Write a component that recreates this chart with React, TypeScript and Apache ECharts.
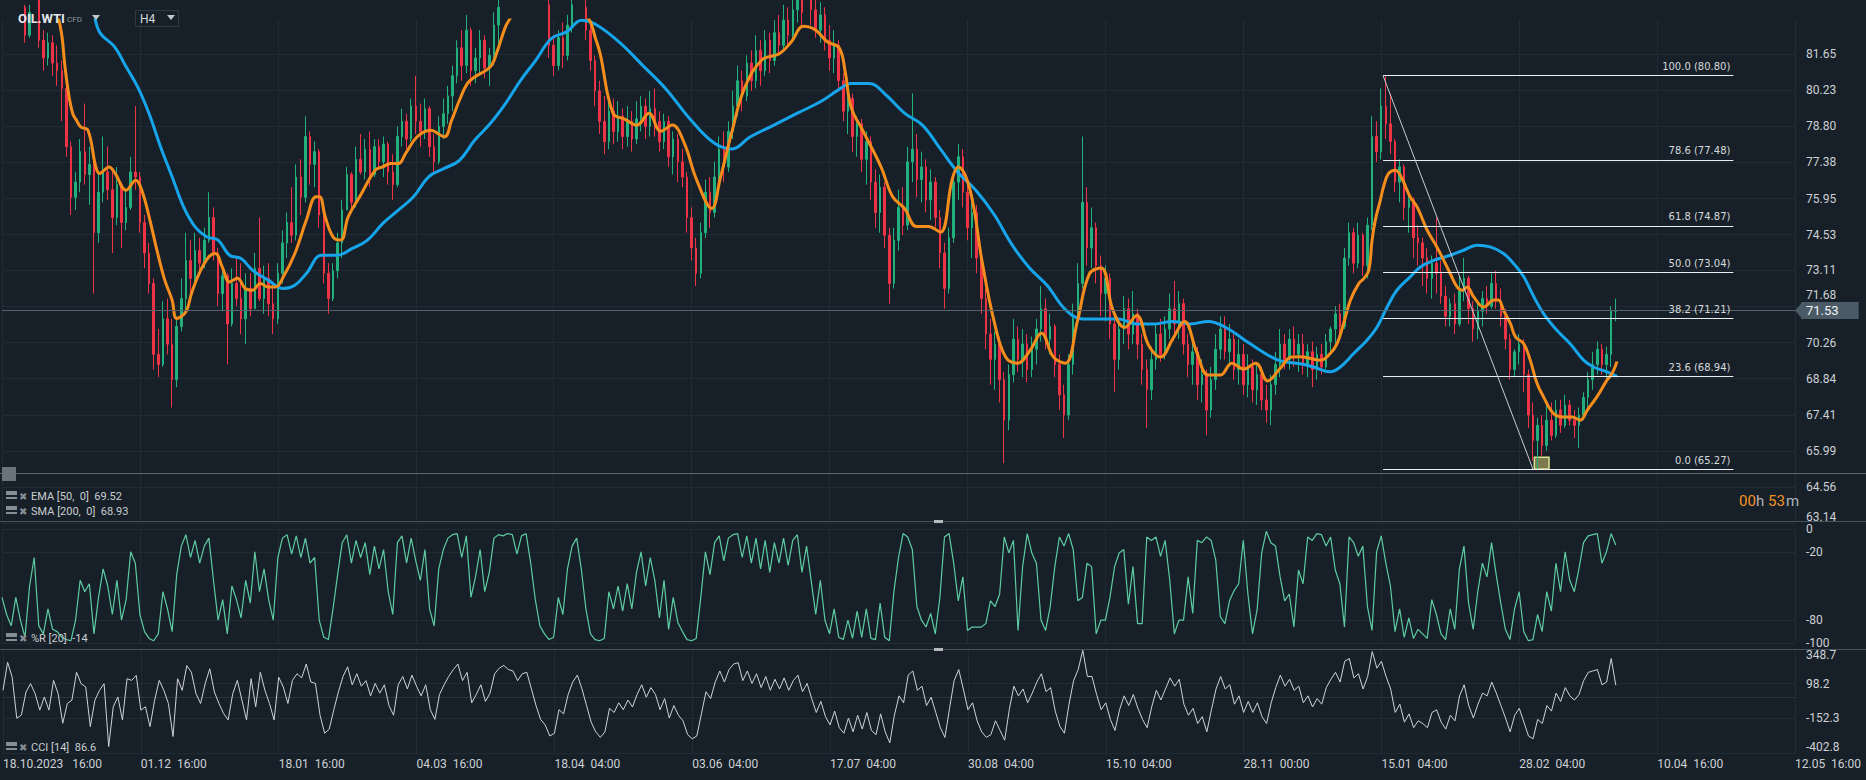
import React, { useEffect, useRef } from 'react';
import * as echarts from 'echarts';

const W = 1866;
const H = 780;
const BG = '#172028';
const GRID_LINE = '#212b34';
const AXIS_TEXT = '#cdd1d5';
const UP = '#22b07d';
const DOWN = '#ee3347';

// x axis: one tick label every 30 candles
const candlesPerTick = 30;
const xTickLabels = ['18.10.2023   16:00', '01.12  16:00', '18.01  16:00', '04.03  16:00', '18.04  04:00', '03.06  04:00', '17.07  04:00', '30.08  04:00', '15.10  04:00', '28.11  00:00', '15.01  04:00', '28.02  04:00', '10.04  16:00', '12.05  16:00'];

const priceTicks = [63.14, 64.56, 65.99, 67.41, 68.84, 70.26, 71.68, 73.11, 74.53, 75.95, 77.38, 78.8, 80.23, 81.65];
const priceMin = 63.14;
const priceMax = 83.0;
const wprTicks = [-100, -80, -20, 0];
const cciTicks = [-402.8, -152.3, 98.2, 348.7];

// candles: [open, close, low, high]
const candlesA = [
  [84.8, 84.4, 84.1, 85.2], [84.4, 84.0, 83.7, 84.7], [84.0, 83.6, 83.3, 84.2], [83.6, 83.9, 83.4, 84.3], [83.9, 83.5, 83.2, 84.1],
  [83.5, 82.4, 82.1, 83.6], [82.4, 83.3, 82.3, 83.6], [83.3, 83.8, 83.1, 84.2], [83.8, 82.2, 81.9, 84.0], [82.2, 81.5, 81.0, 82.6],
  [81.5, 82.1, 81.2, 82.5], [82.1, 81.3, 80.8, 82.4], [81.3, 81.0, 80.4, 82.0], [81.0, 80.3, 79.0, 81.4], [80.3, 78.0, 77.6, 80.5],
  [78.0, 76.0, 75.3, 78.2], [76.0, 76.6, 75.5, 77.0], [76.6, 77.8, 76.2, 78.3], [77.8, 76.9, 76.5, 79.7], [76.9, 77.3, 75.7, 78.0],
  [77.3, 74.6, 72.2, 77.4], [74.6, 76.2, 74.2, 77.0], [76.2, 77.0, 75.8, 78.4], [77.0, 76.3, 75.9, 78.0], [76.3, 75.2, 73.8, 77.0],
  [75.2, 76.5, 74.9, 77.2], [76.5, 75.0, 74.0, 76.6], [75.0, 75.6, 74.7, 76.3], [75.6, 77.0, 75.5, 77.6], [77.0, 76.8, 76.3, 79.6],
  [76.8, 75.0, 74.6, 77.0], [75.0, 73.8, 73.2, 75.3], [73.8, 72.6, 72.2, 74.2], [72.6, 69.8, 69.2, 72.8], [69.8, 69.4, 68.9, 70.8],
  [69.4, 71.2, 69.3, 71.9], [71.2, 70.2, 69.8, 72.0], [70.2, 68.8, 67.7, 71.2], [68.8, 70.9, 68.5, 71.3], [70.9, 72.0, 70.7, 72.8],
  [72.0, 73.5, 71.4, 74.6], [73.5, 72.8, 72.2, 74.3], [72.8, 73.9, 72.6, 74.6], [73.9, 73.4, 73.0, 74.4], [73.4, 74.3, 73.2, 74.8],
  [74.3, 75.2, 74.2, 76.2], [75.2, 73.8, 73.5, 75.6], [73.8, 72.2, 71.7, 74.0], [72.2, 72.9, 71.5, 73.3], [72.9, 71.0, 69.4, 73.0],
  [71.0, 72.6, 70.9, 73.2], [72.6, 72.0, 71.7, 73.6], [72.0, 71.2, 70.6, 73.4], [71.2, 72.4, 70.2, 73.0], [72.4, 71.6, 71.3, 73.0],
  [71.6, 73.2, 71.6, 73.8], [73.2, 72.0, 71.9, 75.2], [72.0, 72.8, 71.4, 73.3], [72.8, 71.8, 71.3, 73.4], [71.8, 71.2, 70.6, 72.6],
  [71.2, 73.0, 71.0, 73.4], [73.0, 74.2, 72.6, 74.7], [74.2, 75.0, 73.6, 75.4], [75.0, 74.5, 74.2, 76.4], [74.5, 76.8, 74.3, 77.3],
  [76.8, 76.0, 75.3, 77.5], [76.0, 78.4, 75.8, 79.2], [78.4, 77.3, 76.5, 78.6], [77.3, 77.8, 76.4, 78.2], [77.8, 75.3, 74.8, 77.9],
  [75.3, 73.0, 72.6, 75.4], [73.0, 72.0, 71.4, 73.4], [72.0, 73.1, 71.9, 73.4], [73.1, 74.2, 72.8, 74.6], [74.2, 75.5, 73.6, 75.9],
  [75.5, 76.9, 75.5, 77.2], [76.9, 75.8, 75.4, 77.0], [75.8, 77.5, 75.6, 78.0], [77.5, 77.0, 76.9, 78.5], [77.0, 77.9, 76.7, 78.3],
  [77.9, 76.9, 76.4, 78.6], [76.9, 78.0, 76.8, 78.3], [78.0, 77.4, 77.2, 78.3], [77.4, 78.1, 76.8, 78.4], [78.1, 77.0, 76.5, 78.2],
  [77.0, 76.5, 75.9, 77.7], [76.5, 78.4, 76.4, 78.8], [78.4, 79.0, 78.0, 79.5], [79.0, 78.3, 77.9, 79.3], [78.3, 79.6, 78.2, 79.9],
  [79.6, 79.0, 78.5, 80.8], [79.0, 78.6, 78.0, 79.7], [78.6, 79.5, 78.3, 79.9], [79.5, 78.0, 77.6, 79.6], [78.0, 77.4, 76.9, 78.5],
  [77.4, 78.8, 77.3, 79.2], [78.8, 79.3, 78.3, 79.9], [79.3, 80.0, 78.9, 80.4], [80.0, 80.8, 79.4, 81.2], [80.8, 81.9, 80.5, 82.2]
];
const candlesB = [
  [81.9, 81.2, 80.6, 82.6], [81.2, 82.6, 80.9, 83.2], [82.6, 81.0, 80.4, 82.7], [81.0, 81.5, 80.5, 81.9], [81.5, 82.2, 80.8, 82.6],
  [82.2, 81.1, 80.7, 82.4], [81.1, 81.6, 80.4, 81.9], [81.6, 82.8, 81.2, 83.3], [82.8, 83.5, 81.9, 84.0], [83.5, 84.2, 83.3, 84.6],
  [84.2, 84.8, 83.9, 85.2], [84.8, 85.3, 84.5, 85.8], [85.3, 85.0, 84.6, 85.9], [85.0, 85.8, 84.8, 86.3], [85.8, 86.2, 85.4, 86.8],
  [86.2, 85.6, 85.2, 86.6], [85.6, 84.9, 84.5, 85.9], [84.9, 84.2, 83.8, 85.1], [84.2, 83.6, 83.2, 84.5], [83.6, 82.0, 81.5, 83.8],
  [82.0, 81.2, 80.8, 82.4], [81.2, 82.3, 81.0, 82.6], [82.3, 81.6, 81.1, 82.9], [81.6, 82.8, 81.4, 83.2], [82.8, 83.6, 82.5, 84.0],
  [83.6, 84.2, 83.2, 84.6], [84.2, 83.5, 83.1, 84.5], [83.5, 82.6, 82.2, 83.8], [82.6, 81.4, 81.0, 82.9], [81.4, 80.2, 79.6, 81.6],
  [80.2, 79.0, 78.5, 80.6], [79.0, 78.2, 77.7, 80.0], [78.2, 79.4, 77.9, 79.8], [79.4, 78.6, 78.1, 79.9], [78.6, 79.2, 78.2, 79.8],
  [79.2, 78.4, 77.9, 79.5], [78.4, 79.0, 78.0, 79.6], [79.0, 78.3, 77.8, 79.4], [78.3, 79.1, 78.1, 79.8], [79.1, 79.6, 78.6, 80.0],
  [79.6, 78.8, 78.3, 79.9], [78.8, 79.5, 78.4, 80.2], [79.5, 79.0, 78.4, 80.3], [79.0, 78.2, 77.8, 79.4], [78.2, 79.0, 77.9, 79.3],
  [79.0, 77.6, 77.2, 79.2], [77.6, 78.3, 76.9, 78.6], [78.3, 77.4, 76.6, 78.5], [77.4, 76.8, 76.4, 77.9], [76.8, 75.2, 74.6, 77.0],
  [75.2, 74.0, 73.5, 75.6], [74.0, 73.0, 72.5, 74.4], [73.0, 74.6, 72.8, 75.0], [74.6, 76.2, 74.4, 76.7], [76.2, 75.4, 74.8, 76.8],
  [75.4, 76.8, 75.2, 77.4], [76.8, 77.9, 76.5, 78.4], [77.9, 77.2, 76.6, 78.6], [77.2, 78.6, 77.0, 79.0], [78.6, 79.6, 78.3, 80.2],
  [79.6, 80.6, 79.2, 81.2], [80.6, 80.0, 79.4, 81.0], [80.0, 81.3, 79.8, 81.6], [81.3, 80.6, 80.2, 81.8], [80.6, 81.8, 80.3, 82.4],
  [81.8, 81.0, 80.4, 82.2], [81.0, 82.2, 80.8, 82.6], [82.2, 81.4, 80.9, 82.5], [81.4, 82.5, 81.2, 83.0], [82.5, 82.0, 81.6, 83.2],
  [82.0, 83.0, 81.8, 83.6], [83.0, 82.4, 82.0, 83.5], [82.4, 83.4, 82.2, 84.0], [83.4, 84.0, 82.9, 84.6], [84.0, 83.3, 82.7, 84.3],
  [83.3, 84.1, 83.0, 84.5], [84.1, 83.4, 82.8, 84.4], [83.4, 82.6, 82.3, 83.8], [82.6, 83.2, 82.1, 83.7], [83.2, 82.2, 81.8, 83.5],
  [82.2, 81.5, 81.0, 82.8], [81.5, 82.0, 80.9, 82.6], [82.0, 80.6, 80.2, 82.2], [80.6, 79.4, 79.0, 80.9], [79.4, 79.9, 78.5, 80.3],
  [79.9, 78.4, 77.8, 80.1], [78.4, 78.9, 77.6, 79.2], [78.9, 77.5, 77.0, 79.1], [77.5, 78.2, 76.5, 78.6], [78.2, 76.6, 75.9, 78.4],
  [76.6, 75.4, 74.8, 77.1], [75.4, 76.4, 74.6, 76.9], [76.4, 74.5, 74.0, 76.6], [74.5, 72.6, 71.8, 74.8], [72.6, 74.3, 72.4, 74.8],
  [74.3, 75.6, 73.9, 76.3], [75.6, 74.9, 74.5, 76.4], [74.9, 77.4, 74.7, 78.0], [77.4, 77.9, 76.6, 80.1], [77.9, 76.7, 76.0, 78.5]
];
const candlesC = [
  [76.7, 77.2, 75.8, 77.8], [77.2, 75.9, 75.4, 77.5], [75.9, 76.6, 75.1, 77.1], [76.6, 75.2, 74.8, 76.8], [75.2, 73.8, 73.2, 75.5],
  [73.8, 72.4, 71.6, 74.2], [72.4, 74.4, 72.2, 74.8], [74.4, 76.6, 74.2, 77.0], [76.6, 77.6, 75.9, 78.1], [77.6, 76.2, 75.6, 77.9],
  [76.2, 74.8, 74.3, 76.6], [74.8, 75.4, 73.6, 75.9], [75.4, 73.6, 73.0, 75.7], [73.6, 72.0, 71.4, 73.9], [72.0, 70.6, 70.0, 72.4],
  [70.6, 69.6, 68.6, 71.2], [69.6, 70.2, 68.4, 70.7], [70.2, 68.8, 67.9, 70.5], [68.8, 67.2, 65.5, 69.1], [67.2, 69.0, 66.8, 69.4],
  [69.0, 70.4, 68.7, 71.2], [70.4, 69.6, 69.1, 70.9], [69.6, 70.2, 68.9, 70.8], [70.2, 69.2, 68.7, 70.6], [69.2, 70.0, 68.9, 70.5],
  [70.0, 70.8, 69.4, 71.2], [70.8, 71.6, 70.3, 72.5], [71.6, 70.4, 70.0, 72.0], [70.4, 70.9, 69.8, 71.4], [70.9, 69.4, 68.9, 71.0],
  [69.4, 68.2, 67.6, 69.8], [68.2, 67.4, 66.5, 68.6], [67.4, 69.4, 67.2, 69.8], [69.4, 71.2, 69.0, 71.8], [71.2, 72.6, 70.9, 73.4],
  [72.6, 75.8, 72.4, 78.4], [75.8, 74.0, 73.3, 76.4], [74.0, 74.8, 73.2, 75.6], [74.8, 73.3, 72.6, 75.0], [73.3, 72.2, 71.3, 73.7],
  [72.2, 72.8, 71.1, 73.3], [72.8, 71.0, 70.4, 73.0], [71.0, 69.6, 68.3, 71.4], [69.6, 70.8, 69.2, 71.2], [70.8, 71.6, 70.2, 72.1],
  [71.6, 70.6, 70.0, 72.0], [70.6, 71.4, 70.2, 72.3], [71.4, 70.2, 69.6, 71.6], [70.2, 69.2, 68.6, 70.6], [69.2, 68.4, 66.9, 69.6],
  [68.4, 69.6, 68.0, 70.1], [69.6, 70.6, 69.2, 71.0], [70.6, 69.8, 69.5, 71.2], [69.8, 70.8, 69.6, 71.3], [70.8, 71.6, 70.4, 72.2],
  [71.6, 71.0, 70.6, 72.7], [71.0, 71.8, 70.4, 72.3], [71.8, 70.2, 69.8, 72.0], [70.2, 69.4, 68.9, 70.6], [69.4, 69.9, 68.6, 70.4],
  [69.9, 68.6, 68.0, 70.1], [68.6, 69.0, 67.9, 69.6], [69.0, 67.6, 66.6, 69.2], [67.6, 68.8, 67.3, 69.3], [68.8, 70.0, 68.4, 70.6],
  [70.0, 70.8, 69.6, 71.3], [70.8, 69.9, 69.6, 71.3], [69.9, 70.4, 69.3, 71.0], [70.4, 69.2, 68.8, 70.6], [69.2, 69.8, 68.6, 70.4],
  [69.8, 68.6, 68.2, 70.2], [68.6, 69.3, 68.1, 69.8], [69.3, 68.4, 67.9, 69.6], [68.4, 69.0, 67.8, 69.5], [69.0, 68.0, 67.6, 69.3],
  [68.0, 67.6, 67.1, 68.6], [67.6, 68.6, 67.0, 69.0], [68.6, 69.4, 68.2, 69.9], [69.4, 70.2, 68.9, 70.8], [70.2, 69.6, 69.2, 70.6],
  [69.6, 70.4, 69.2, 70.8], [70.4, 69.8, 69.3, 70.9], [69.8, 70.2, 69.1, 70.6], [70.2, 69.4, 69.0, 70.6], [69.4, 69.9, 68.9, 70.2],
  [69.9, 69.2, 68.5, 70.3], [69.2, 69.8, 68.8, 70.1], [69.8, 69.3, 69.0, 70.2], [69.3, 70.3, 69.2, 70.6], [70.3, 70.8, 69.8, 70.9],
  [70.8, 71.4, 70.2, 71.7], [71.4, 70.9, 70.5, 71.8], [70.9, 73.6, 70.8, 74.0], [73.6, 74.6, 73.3, 75.0], [74.6, 73.4, 73.0, 74.8],
  [73.4, 74.5, 73.2, 75.0], [74.5, 73.3, 72.9, 74.6], [73.3, 74.9, 72.8, 75.2], [74.9, 78.4, 74.7, 79.2], [78.4, 77.8, 77.4, 79.0]
];
const candlesD = [
  [77.8, 79.6, 77.5, 80.3], [79.6, 78.9, 78.3, 80.8], [78.9, 78.2, 77.7, 80.1], [78.2, 76.6, 76.2, 78.3], [76.6, 77.2, 75.8, 77.5],
  [77.2, 75.6, 75.1, 77.3], [75.6, 75.9, 74.6, 76.3], [75.9, 74.4, 73.6, 76.0], [74.4, 74.2, 73.3, 74.9], [74.2, 73.6, 72.5, 74.4],
  [73.6, 72.8, 72.2, 74.0], [72.8, 73.4, 72.0, 73.7], [73.4, 73.0, 72.2, 75.2], [73.0, 72.1, 71.8, 73.5], [72.1, 71.3, 70.9, 72.5],
  [71.3, 71.8, 70.9, 72.0], [71.8, 71.0, 70.6, 72.2], [71.0, 72.3, 70.9, 72.9], [72.3, 72.8, 71.9, 73.6], [72.8, 71.6, 71.0, 72.9],
  [71.6, 70.8, 70.3, 71.9], [70.8, 71.5, 70.4, 71.8], [71.5, 72.0, 70.9, 72.3], [72.0, 71.7, 71.4, 72.5], [71.7, 72.6, 71.6, 73.0],
  [72.6, 71.9, 71.6, 73.1], [71.9, 71.3, 70.9, 72.4], [71.3, 70.4, 70.0, 71.6], [70.4, 69.2, 68.8, 70.6], [69.2, 69.9, 68.9, 70.0],
  [69.9, 70.2, 69.4, 70.6], [70.2, 69.0, 68.3, 70.4], [69.0, 67.4, 66.9, 69.2], [67.4, 66.4, 65.6, 67.9], [66.4, 67.0, 65.27, 67.3],
  [67.0, 66.2, 65.8, 67.4], [66.2, 67.2, 66.0, 67.8], [67.2, 66.6, 66.4, 67.9], [66.6, 67.6, 66.5, 68.0], [67.6, 67.0, 66.7, 68.0],
  [67.0, 67.8, 66.9, 68.2], [67.8, 67.2, 67.0, 68.0], [67.2, 67.0, 66.5, 67.6], [67.0, 67.4, 66.1, 67.7], [67.4, 68.1, 67.2, 68.3],
  [68.1, 68.8, 67.7, 69.1], [68.8, 69.4, 68.4, 69.9], [69.4, 70.0, 69.0, 70.3], [70.0, 69.4, 69.0, 70.2], [69.4, 69.8, 68.8, 70.1],
  [69.8, 71.5, 69.3, 71.7], [71.5, 71.53, 71.1, 72.0]
];

// EMA(50) and SMA(200): [candle index, price]
const emaPoints = [
  [11.5, 83.6], [12.9, 82.53], [13.7, 81.15], [14.6, 79.96], [15.4, 79.3], [16.2, 79.04], [17.1, 78.78], [18.7, 78.65], [20.4, 77.2], [21.2, 76.94],
  [23.3, 77.2], [24.6, 76.94], [27.0, 76.28], [29.1, 76.67], [30.4, 76.28], [32.0, 75.23], [33.7, 73.91], [35.4, 72.73], [37.0, 71.94], [38.0, 71.21],
  [40.0, 71.48], [41.2, 72.2], [42.9, 73.0], [45.0, 73.65], [46.4, 73.78], [47.9, 73.25], [49.5, 72.66], [51.2, 72.8], [52.9, 72.4], [54.5, 72.33],
  [56.2, 72.6], [57.9, 72.46], [59.5, 72.46], [61.2, 72.86], [63.7, 73.78], [66.2, 75.1], [68.3, 76.02], [69.1, 76.02], [70.3, 75.23], [72.0, 74.44],
  [73.7, 74.31], [75.3, 75.23], [77.8, 76.02], [81.2, 77.07], [82.8, 77.2], [84.5, 77.33], [86.2, 77.33], [87.8, 77.73], [90.3, 78.39], [93.2, 78.65],
  [96.2, 78.39], [97.8, 79.04], [99.5, 79.83], [101.2, 80.49], [102.8, 80.75], [106.2, 81.15], [107.8, 81.81], [109.5, 82.73], [110.7, 83.12], [113, 84.0],
  [118, 84.6], [123, 84.2], [127.8, 82.99], [129.0, 82.33], [130.1, 81.67], [132.9, 79.32], [135.5, 79.08], [138.1, 78.85], [140.7, 79.32], [143.3, 78.61],
  [145.8, 78.85], [148.4, 78.14], [151.0, 76.73], [154.4, 75.56], [156.2, 76.73], [158.8, 78.61], [161.4, 80.26], [165.3, 81.43], [169.1, 81.67], [171.7, 82.14],
  [174.3, 82.75], [176.9, 82.61], [179.5, 82.14], [182.1, 81.9], [183.4, 80.96], [184.7, 79.55], [187.3, 78.61], [191.2, 77.2], [193.7, 76.03], [196.3, 75.56],
  [198.9, 74.85], [201.5, 74.85], [204.1, 74.62], [206.7, 76.73], [208.0, 77.2], [210.6, 76.26], [213.2, 73.44], [215.8, 71.1], [218.3, 69.69], [220.9, 69.45],
  [223.5, 69.92], [226.1, 70.63], [228.7, 69.69], [231.3, 69.45], [233.9, 71.1], [236.5, 72.97], [239.1, 73.21], [241.6, 71.57], [244.2, 70.86], [246.8, 71.33],
  [249.4, 70.16], [252.0, 69.69], [254.6, 70.39], [257.2, 71.1], [259.8, 69.92], [262.4, 68.98], [265.0, 68.98], [267.5, 69.45], [270.1, 69.22], [272.7, 69.45],
  [275.3, 68.75], [277.9, 69.22], [280.5, 69.69], [282.4, 69.7], [286.8, 69.57], [288.9, 69.83], [290.4, 70.22], [291.8, 71.01], [293.3, 71.94], [295.1, 72.59],
  [296.2, 72.79], [297.3, 73.12], [298.0, 74.3], [298.7, 75.09], [299.8, 75.88], [300.5, 76.41], [301.6, 76.94], [303.1, 77.07], [304.5, 76.74], [306.3, 76.01],
  [307.8, 75.62], [310.0, 74.7], [312.1, 74.04], [313.6, 73.51], [315.0, 72.99], [316.5, 72.46], [317.6, 72.33], [318.7, 72.46], [320.1, 72.07], [322.3, 71.67],
  [324.5, 71.94], [325.5, 71.94], [326.6, 71.54], [328.1, 71.01], [329.2, 70.49], [331.0, 70.22], [332.4, 69.57], [333.9, 68.65], [335.3, 68.12], [337.5, 67.46],
  [339.7, 67.33], [341.5, 67.33], [343.3, 67.2], [344.8, 67.59], [346.9, 68.12], [349.1, 68.78], [350.2, 69.04], [351.3, 69.52]
];
const smaPoints = [
  [20.0, 83.4], [21.2, 82.53], [24.5, 81.94], [27.0, 81.15], [29.5, 80.36], [32.0, 79.3], [34.5, 77.99], [37.0, 76.81], [39.5, 75.62], [42.0, 74.83],
  [44.5, 74.44], [47.0, 74.31], [49.5, 73.71], [52.0, 73.58], [54.5, 73.12], [57.9, 72.73], [61.2, 72.4], [63.7, 72.53], [66.2, 72.99], [69.5, 73.71],
  [72.8, 73.71], [76.2, 73.98], [79.5, 74.31], [82.8, 74.96], [86.2, 75.49], [89.5, 76.02], [92.8, 76.81], [96.2, 77.14], [99.5, 77.46], [102.8, 78.25],
  [106.2, 78.91], [109.5, 79.7], [112.8, 80.62], [116.1, 81.41], [119.5, 82.27], [122.8, 82.53], [126.1, 82.99], [129.0, 82.84], [134.2, 82.14], [139.4, 81.2],
  [144.5, 80.26], [149.7, 79.08], [154.9, 78.14], [158.8, 77.91], [162.7, 78.38], [167.9, 78.85], [173.0, 79.32], [178.2, 79.79], [182.1, 80.26], [184.7, 80.49],
  [188.6, 80.49], [192.4, 80.02], [196.3, 79.32], [200.2, 78.85], [204.1, 77.91], [208.0, 76.97], [211.9, 76.26], [215.8, 75.32], [219.6, 74.15], [223.5, 73.21],
  [227.4, 72.51], [231.3, 71.57], [235.2, 71.19], [239.1, 71.19], [242.9, 71.19], [246.8, 71.0], [250.7, 71.0], [254.6, 71.1], [258.5, 71.0], [262.4, 71.1],
  [266.2, 70.86], [270.1, 70.39], [274.0, 69.92], [277.9, 69.55], [282.4, 69.43], [285.3, 69.3], [288.9, 69.11], [291.1, 69.3], [294.0, 69.83], [296.9, 70.36],
  [299.1, 70.88], [301.3, 71.67], [303.4, 72.33], [306.3, 72.86], [308.5, 73.25], [311.4, 73.51], [315.0, 73.71], [317.9, 73.91], [320.8, 74.11], [323.7, 74.04],
  [326.6, 73.78], [328.8, 73.38], [331.0, 72.86], [333.2, 72.07], [335.3, 71.41], [338.2, 70.75], [341.1, 70.22], [344.0, 69.57], [346.2, 69.3], [349.1, 69.11],
  [351.3, 68.93]
];

// Williams %R (20), one value per candle
const wprValues = [
  -60, -75, -85, -60, -80, -95, -50, -25, -85, -92,
  -70, -88, -90, -95, -97, -98, -80, -45, -55, -48,
  -92, -60, -35, -50, -75, -45, -80, -62, -20, -30,
  -75, -90, -96, -98, -92, -55, -70, -90, -40, -15,
  -5, -25, -10, -30, -15, -8, -45, -80, -62, -92,
  -50, -62, -78, -45, -65, -20, -55, -35, -62, -80,
  -25, -8, -5, -22, -6, -25, -8, -30, -25, -80,
  -95, -97, -70, -40, -12, -5, -30, -10, -25, -12,
  -40, -15, -35, -18, -55, -75, -12, -6, -30, -8,
  -28, -45, -18, -70, -85, -35, -18, -8, -5, -4,
  -25, -6, -60, -42, -18, -55, -38, -8, -5, -6,
  -4, -5, -22, -6, -4, -30, -62, -85, -92, -97,
  -95, -60, -75, -35, -15, -8, -35, -70, -92, -97,
  -98, -96, -55, -70, -50, -72, -48, -70, -38, -20,
  -50, -25, -45, -78, -45, -88, -60, -82, -90, -97,
  -98, -96, -60, -20, -40, -12, -6, -28, -8, -5,
  -4, -25, -6, -30, -8, -35, -10, -38, -12, -30,
  -8, -32, -10, -5, -38, -15, -45, -75, -45, -80,
  -92, -70, -95, -97, -80, -96, -72, -95, -70, -96,
  -97, -65, -95, -98, -55, -25,
  -4, -7, -18, -68, -80, -86, -74, -92, -60, -7,
  -4, -30, -63, -42, -89, -86, -86, -86, -83, -63,
  -68, -57, -7, -21, -10, -89, -33, -4, -21, -30,
  -80, -89, -68, -33, -7, -15, -4, -18, -63, -60,
  -30, -33, -92, -80, -80, -60, -33, -21, -18, -66,
  -33, -83, -83, -7, -10, -7, -24, -10, -45, -92,
  -80, -80, -42, -74, -10, -12, -7, -10, -27, -77,
  -83, -63, -54, -48, -10, -57, -92, -71, -21, -2,
  -12, -15, -42, -63, -57, -86, -36, -48, -7, -10,
  -4, -5, -15, -7, -36, -48, -86, -7, -12, -24,
  -15, -68, -89,
  -20, -6, -30, -50, -90, -70, -95, -78, -96, -88,
  -92, -96, -62, -75, -92, -97, -70, -88, -35, -15,
  -65, -88, -55, -30, -42, -12, -40, -65, -88, -97,
  -70, -55, -90, -98, -97, -75, -90, -55, -72, -30,
  -55, -20, -45, -55, -35, -12, -6, -5, -4, -30,
  -20, -4, -14
];

// CCI (14), one value per candle
const cciValues = [
  50, 253, 145, -152, -129, 38, 98, 26, -93, 2,
  -93, 122, 26, -188, -45, -21, 181, 98, 74, -212,
  -21, 50, 98, -356, -69, 2, -164, 134, 122, 158,
  -93, -69, -212, -21, 122, 50, -45, -284, 134, 50,
  229, 181, 26, -45, 98, 206, 38, -45, -117, -164,
  26, 122, -21, -164, 134, -69, 181, 50, -45, -164,
  145, 74, -45, 122, 170,
  140, 240, 110, 100, -130,
  -260, -230, -90, 40, 150, 220, 90, 170, 80, 120,
  10, 100, 30, 90, -60, -130, 90, 150, 60, 160,
  80, 10, 90, -90, -160, 20, 90, 150, 200, 240,
  120, 180, -40, 20, 90, -30, 30, 170, 210, 230,
  200, 190, 120, 170, 180, 60, -60, -160, -200, -280,
  -260, -90, -120, 20, 110, 160, 60, -60, -180, -250,
  -290, -250, -80, -110, -40, -90, -20, -70, 20, 90,
  0, 70, 20, -90, -10, -150, -60, -130, -170, -270,
  -300, -280, -120, 40, -10, 110, 190, 110, 200, 240,
  250, 120, 190, 100, 170, 70, 150, 50, 130, 60,
  140, 50, 120, 160, 40, 100, -10, -110, -30, -140,
  -200, -100, -220, -260, -150, -250, -130, -230, -110, -240,
  -270, -120, -250, -330, -130, 10, -40, 160, 190, 50,
  80, -60, 0, -110, -220, -290, -80, 120, 200, 60,
  -90, -40, -170, -250, -290, -270, -170, -240, -310, -90,
  80, 10, 60, -40, 30, 110, 170, 40, 70, -100,
  -210, -260, -50, 120, 200, 340, 150, 150, 20, -90,
  -40, -160, -240, -90, 10, -60, 20, -80, -160, -220,
  -70, 50, -20, 60, 140, 80, 130, -50, -130, -80,
  -190, -140, -250, -90, 60, 150, 60, 90, -50, 10,
  -110, -30, -110, -40, -140, -190, -40, 70, 160, 80,
  130, 50, 80, -40, 10, -70, -10, -50, 70, 130,
  180, 110, 260, 280, 140, 170, 60, 150, 330, 210,
  260, 150, 60, -110, -50, -180, -120, -220, -170, -190,
  -220, -110, -90, -180, -230, -130, -170, 10, 90, -60,
  -150, -50, 30, 10, 110, 30, -60, -150, -250, -130,
  -80, -180, -280, -300, -160, -190, -60, -100, 30, -30,
  70, 10, -20, 20, 120, 180, 190, 200, 90, 110,
  280, 86.6
];

// Fibonacci retracement drawing
const fibRatios = ['100.0', '78.6', '61.8', '50.0', '38.2', '23.6', '0.0'];
const fibPrices = [80.8, 77.48, 74.87, 73.04, 71.21, 68.94, 65.27];
const fibStartIdx = 300.4;
const fibEndIdx = 376.6;
const fibLowIdx = 333.0;
const boxIdx = [333.3, 336.5];
const boxPrice = [65.74, 65.27];

const lastPrice = 71.53;
const hLinePrice = 65.11;
const indicatorLegend = ['EMA [50,  0]  69.52', 'SMA [200,  0]  68.93', '%R [20]  -14', 'CCI [14]  86.6'];

function buildGraphics(yH: number, yLast: number, xRight: number) {
  const els: any[] = [];
  const line = (x1: number, y1: number, x2: number, y2: number, stroke: string, lw = 1) => ({
    type: 'line', silent: true, z: 50, shape: { x1, y1, x2, y2 }, style: { stroke, lineWidth: lw }
  });
  const text = (x: number, y: number, t: string, fill: string, fontSize: number, extra: any = {}) => ({
    type: 'text', silent: true, z: 60, x, y,
    style: { text: t, fill, fontSize, fontFamily: 'Roboto', verticalAlign: 'middle', textVerticalAlign: 'middle', align: 'left', ...extra }
  });
  // horizontal drawing line + handle
  els.push(line(0, Math.round(yH) + 0.5, W, Math.round(yH) + 0.5, '#5b656e'));
  els.push({ type: 'rect', silent: true, z: 55, shape: { x: 2, y: Math.round(yH) - 6, width: 14, height: 14 }, style: { fill: '#6b747c' } });
  // arrow of the last price tag
  els.push({
    type: 'polygon', silent: true, z: 70,
    shape: { points: [[xRight, yLast], [xRight + 7, yLast - 8], [xRight + 7, yLast + 8]] },
    style: { fill: '#4a5a66' }
  });
  // pane separators
  els.push(line(0, 521.5, W, 521.5, '#48525b'));
  els.push(line(0, 649.5, W, 649.5, '#48525b'));
  els.push({ type: 'rect', silent: true, z: 56, shape: { x: 934, y: 520, width: 9, height: 3 }, style: { fill: '#b4b9bd' } });
  els.push({ type: 'rect', silent: true, z: 56, shape: { x: 934, y: 648, width: 9, height: 3 }, style: { fill: '#b4b9bd' } });
  // header
  els.push(text(18, 18, 'OIL.WTI', '#e3e6e9', 13, { fontWeight: 'bold' }));
  els.push(text(67, 19.5, 'CFD', '#8e979e', 8));
  els.push({ type: 'polygon', silent: true, z: 60, shape: { points: [[92, 15], [100, 15], [96, 20]] }, style: { fill: '#c3c8cc' } });
  els.push({ type: 'rect', silent: true, z: 58, shape: { x: 135.5, y: 10.5, width: 43, height: 16 }, style: { fill: 'none', stroke: '#2e3942', lineWidth: 1 } });
  els.push(text(140, 18.5, 'H4', '#d6dadd', 12));
  els.push({ type: 'polygon', silent: true, z: 60, shape: { points: [[167, 15], [175, 15], [171, 20]] }, style: { fill: '#c3c8cc' } });
  // indicator legends
  const rows = [496, 511, 638, 747];
  rows.forEach((y, k) => {
    els.push({ type: 'rect', silent: true, z: 60, shape: { x: 6, y: y - 5, width: 11, height: 4 }, style: { fill: '#858e95' } });
    els.push({ type: 'rect', silent: true, z: 60, shape: { x: 6, y: y + 1, width: 11, height: 2 }, style: { fill: '#858e95' } });
    els.push(text(19, y, '\u2716', '#858e95', 10, { fontFamily: 'DejaVu Sans' }));
    els.push(text(31, y, indicatorLegend[k], '#c9ced2', 11));
  });
  // countdown
  els.push(text(1739, 501, '00', '#f39322', 15));
  els.push(text(1756, 501, 'h', '#aeb5bb', 15));
  els.push(text(1768, 501, '53', '#f39322', 15));
  els.push(text(1786, 501, 'm', '#aeb5bb', 15));
  return els;
}

export default function App() {
  const ref = useRef<HTMLDivElement>(null);
  useEffect(() => {
    const el = ref.current;
    if (!el) return;
    const chart = echarts.init(el, null, { renderer: 'svg' });
    const allCandles = [...candlesA, ...candlesB, ...candlesC, ...candlesD];
    const candleData = allCandles.map((c, i) => [i, c[0], c[1], c[2], c[3]]);
    const fibLines: any[] = fibPrices.map((p, k) => [
      {
        coord: [fibStartIdx, p],
        lineStyle: { color: '#eceff1', width: 1, type: 'solid' },
        label: {
          show: true, position: 'insideEndTop', formatter: `${fibRatios[k]} (${p.toFixed(2)})`,
          color: '#d6dadd', fontFamily: 'DejaVu Sans', fontSize: 10, distance: [3, 4]
        }
      },
      { coord: [fibEndIdx, p] }
    ]);
    const diag = [
      { coord: [fibStartIdx, fibPrices[0]], lineStyle: { color: '#c9cdd0', width: 1, type: 'solid' }, label: { show: false } },
      { coord: [fibLowIdx, fibPrices[fibPrices.length - 1]] }
    ];
    const xMax = candlesPerTick * (xTickLabels.length - 1);
    const xAxisBase = (i: number) => ({
      type: 'value', gridIndex: i, min: 0, max: xMax, interval: candlesPerTick,
      axisLine: { show: i === 2, lineStyle: { color: '#2a343d' } },
      axisTick: { show: false },
      axisLabel: {
        show: i === 2, align: 'left', color: AXIS_TEXT, fontSize: 12, fontFamily: 'Roboto', margin: 5,
        showMinLabel: true, showMaxLabel: true,
        formatter: (v: number) => xTickLabels[Math.round(v / candlesPerTick)] || ''
      },
      splitLine: { show: true, lineStyle: { color: GRID_LINE, width: 1 } }
    });
    const option: any = {
      animation: false,
      backgroundColor: BG,
      textStyle: { fontFamily: 'Roboto' },
      grid: [
        { left: 2, width: 1793, top: 20, height: 503 },
        { left: 2, width: 1793, top: 529, height: 114 },
        { left: 2, width: 1793, top: 649, height: 104 }
      ],
      xAxis: [xAxisBase(0), xAxisBase(1), xAxisBase(2)],
      yAxis: [
        {
          type: 'value', gridIndex: 0, position: 'right', min: priceMin, max: priceMax,
          axisLine: { show: false }, axisTick: { show: false, customValues: priceTicks },
          axisLabel: {
            customValues: priceTicks,
            // the tick just above the last-price tag is lifted so both texts stay readable
            formatter: (v: number) => (Math.abs(v - lastPrice) < 0.3 ? `{up|${v.toFixed(2)}}` : v.toFixed(2)),
            rich: { up: { color: AXIS_TEXT, fontSize: 12, fontFamily: 'Roboto', padding: [0, 0, 24, 0] } },
            color: AXIS_TEXT, fontSize: 12,
            fontFamily: 'Roboto', margin: 11, align: 'left', verticalAlignMinLabel: 'bottom'
          },
          splitLine: { show: true, lineStyle: { color: GRID_LINE, width: 1 } }
        },
        {
          type: 'value', gridIndex: 1, position: 'right', min: -100, max: 0,
          axisLine: { show: false }, axisTick: { show: false, customValues: wprTicks },
          axisLabel: { customValues: wprTicks, color: AXIS_TEXT, fontSize: 12, fontFamily: 'Roboto', margin: 11, align: 'left' },
          splitLine: { show: true, lineStyle: { color: GRID_LINE, width: 1 } }
        },
        {
          type: 'value', gridIndex: 2, position: 'right', min: cciTicks[0], max: cciTicks[cciTicks.length - 1],
          axisLine: { show: false }, axisTick: { show: false, customValues: cciTicks },
          axisLabel: {
            customValues: cciTicks, formatter: (v: number) => v.toFixed(1), color: AXIS_TEXT, fontSize: 12,
            fontFamily: 'Roboto', margin: 11, align: 'left', verticalAlignMinLabel: 'bottom', verticalAlignMaxLabel: 'top'
          },
          splitLine: { show: true, lineStyle: { color: GRID_LINE, width: 1 } }
        }
      ],
      series: [
        {
          type: 'candlestick', xAxisIndex: 0, yAxisIndex: 0, data: candleData,
          encode: { x: 0, y: [1, 2, 3, 4] }, barWidth: 2, clip: true, z: 2,
          itemStyle: { color: UP, color0: DOWN, borderColor: UP, borderColor0: DOWN, borderWidth: 1 },
          markLine: {
            silent: true, symbol: ['none', 'none'], animation: false,
            data: [
              {
                yAxis: lastPrice,
                lineStyle: { color: '#56636e', width: 1, type: 'solid' },
                label: {
                  show: true, position: 'end', formatter: lastPrice.toFixed(2), color: '#eef2f4',
                  backgroundColor: '#4a5a66', padding: [2, 20, 2, 5], fontSize: 13, fontFamily: 'Roboto', distance: 6
                }
              },
              ...fibLines,
              diag
            ]
          },
          markArea: {
            silent: true,
            itemStyle: { color: '#7c7a4e', borderColor: '#d9e48e', borderWidth: 1.5 },
            data: [[{ coord: [boxIdx[0], boxPrice[0]] }, { coord: [boxIdx[1], boxPrice[1]] }]]
          }
        },
        {
          type: 'line', xAxisIndex: 0, yAxisIndex: 0, data: smaPoints, smooth: 0.4, showSymbol: false,
          clip: true, z: 3, lineStyle: { color: '#16a4ea', width: 3 }
        },
        {
          type: 'line', xAxisIndex: 0, yAxisIndex: 0, data: emaPoints, smooth: 0.4, showSymbol: false,
          clip: true, z: 4, lineStyle: { color: '#f58d1c', width: 3 }
        },
        {
          type: 'line', xAxisIndex: 1, yAxisIndex: 1, data: wprValues.map((v, i) => [i, v]), showSymbol: false,
          clip: true, lineStyle: { color: '#5ecca2', width: 1.2 }
        },
        {
          type: 'line', xAxisIndex: 2, yAxisIndex: 2, data: cciValues.map((v, i) => [i, v]), showSymbol: false,
          clip: true, lineStyle: { color: '#ced3d7', width: 1 }
        }
      ]
    };
    chart.setOption(option);
    const yH = chart.convertToPixel({ yAxisIndex: 0 }, hLinePrice) as number;
    const yLast = chart.convertToPixel({ yAxisIndex: 0 }, lastPrice) as number;
    const xRight = chart.convertToPixel({ xAxisIndex: 0 }, xMax) as number;
    chart.setOption({ graphic: buildGraphics(yH, yLast, xRight) });
    return () => chart.dispose();
  }, []);
  return <div ref={ref} style={{ position: 'absolute', left: 0, top: 0, width: W, height: H, background: BG }} />;
}
